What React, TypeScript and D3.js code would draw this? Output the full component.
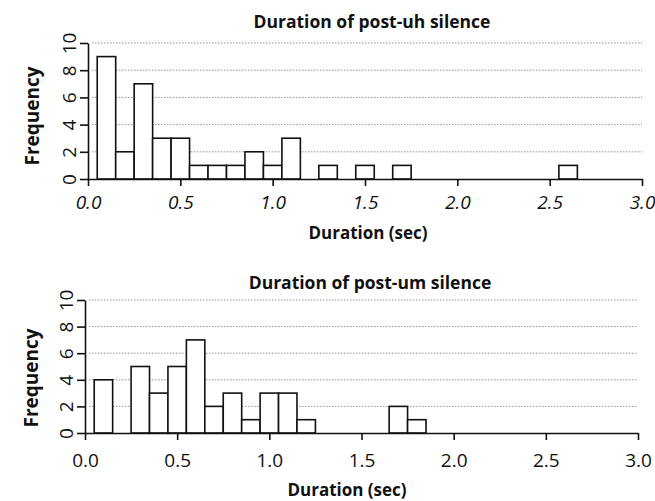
import { useRef, useEffect } from 'react';
import * as d3 from 'd3';

// histogram bins (left edge, sec) and counts
const BIN_WIDTH = 0.1;
const uhBinStarts = [0.05, 0.15, 0.25, 0.35, 0.45, 0.55, 0.65, 0.75, 0.85, 0.95, 1.05, 1.25, 1.45, 1.65, 2.55];
const uhCounts = [9, 2, 7, 3, 3, 1, 1, 1, 2, 1, 3, 1, 1, 1, 1];
const umBinStarts = [0.05, 0.25, 0.35, 0.45, 0.55, 0.65, 0.75, 0.85, 0.95, 1.05, 1.15, 1.65, 1.75];
const umCounts = [4, 5, 3, 5, 7, 2, 3, 1, 3, 3, 1, 2, 1];

const xTicks = [0, 0.5, 1, 1.5, 2, 2.5, 3];
const yTicks = [0, 2, 4, 6, 8, 10];
const titles = ['Duration of post-uh silence', 'Duration of post-um silence'];
const X_LABEL = 'Duration (sec)';
const Y_LABEL = 'Frequency';

const FONT = '"Open Sans", "Noto Sans", sans-serif';

const PANELS = [
  { starts: uhBinStarts, counts: uhCounts, title: titles[0], left: 88, right: 642, top: 43, bottom: 179,
    titleY: 28, titleX: 372, tickY: 209, labelY: 239, labelX: 368, freqX: 39, freqY: 116, italic: true },
  { starts: umBinStarts, counts: umCounts, title: titles[1], left: 85, right: 638, top: 300, bottom: 433,
    titleY: 289, titleX: 370, tickY: 467, labelY: 496, labelX: 347, freqX: 38, freqY: 378, italic: false },
];

export default function App() {
  const svgRef = useRef<SVGSVGElement>(null);

  useEffect(() => {
    const svg = d3.select(svgRef.current);
    svg.selectAll('*').remove();

    PANELS.forEach(p => {
      const x = d3.scaleLinear().domain([0, 3]).range([p.left, p.right]);
      const y = d3.scaleLinear().domain([0, 10]).range([p.bottom, p.top]);
      const g = svg.append('g');

      // dotted grid
      g.append('g')
        .selectAll('line')
        .data(yTicks.filter(d => d > 0))
        .join('line')
        .attr('x1', p.left + 4).attr('x2', p.right)
        .attr('y1', d => y(d)).attr('y2', d => y(d))
        .attr('stroke', '#777').attr('stroke-width', 0.8)
        .attr('stroke-dasharray', '1.5,1.5');

      // bars
      const data = p.starts.map((s, i) => ({ x0: s, n: p.counts[i] }));
      g.append('g')
        .selectAll('rect')
        .data(data)
        .join('rect')
        .attr('x', d => x(d.x0))
        .attr('width', d => x(d.x0 + BIN_WIDTH) - x(d.x0))
        .attr('y', d => y(d.n))
        .attr('height', d => y(0) - y(d.n))
        .attr('fill', '#fff')
        .attr('stroke', '#111')
        .attr('stroke-width', 1.6);

      // x axis
      const xa = g.append('g')
        .attr('transform', `translate(0,${y(0)})`)
        .call(d3.axisBottom(x).tickValues(xTicks).tickSize(7).tickSizeOuter(0).tickFormat(d3.format('.1f')));
      xa.select('.domain').attr('stroke', '#111').attr('stroke-width', 1.6);
      xa.selectAll('.tick line').attr('stroke', '#111').attr('stroke-width', 1.6);
      xa.selectAll('.tick text')
        .attr('y', p.tickY - y(0))
        .attr('dy', null)
        .attr('fill', '#111')
        .attr('font-family', FONT)
        .attr('font-size', 19)
        .attr('font-style', p.italic ? 'italic' : 'normal');

      // y axis
      const ya = g.append('g')
        .attr('transform', `translate(${p.left},0)`)
        .call(d3.axisLeft(y).tickValues(yTicks).tickSize(8).tickSizeOuter(0));
      ya.select('.domain').attr('stroke', '#111').attr('stroke-width', 1.6);
      ya.selectAll('.tick line').attr('stroke', '#111').attr('stroke-width', 1.6);
      ya.selectAll('.tick text')
        .attr('x', null).attr('dy', null)
        .attr('transform', `translate(-12,0) rotate(-90)`)
        .attr('text-anchor', 'middle')
        .attr('fill', '#111')
        .attr('font-family', FONT)
        .attr('font-size', 19);

      // title
      g.append('text')
        .attr('x', p.titleX).attr('y', p.titleY)
        .attr('text-anchor', 'middle')
        .attr('font-family', FONT).attr('font-weight', 'bold').attr('font-size', 17.5)
        .attr('fill', '#111')
        .text(p.title);

      // x label
      g.append('text')
        .attr('x', p.labelX).attr('y', p.labelY)
        .attr('text-anchor', 'middle')
        .attr('font-family', FONT).attr('font-weight', 'bold').attr('font-size', 17)
        .attr('fill', '#111')
        .text(X_LABEL);

      // y label
      g.append('text')
        .attr('transform', `translate(${p.freqX},${p.freqY}) rotate(-90)`)
        .attr('text-anchor', 'middle')
        .attr('font-family', FONT).attr('font-weight', 'bold').attr('font-size', 19)
        .attr('fill', '#111')
        .text(Y_LABEL);
    });
  }, []);

  return (
    <>
      <style>{'body{margin:0;background:#fff}'}</style>
      <svg ref={svgRef} width={655} height={501} style={{ display: 'block' }} />
    </>
  );
}
